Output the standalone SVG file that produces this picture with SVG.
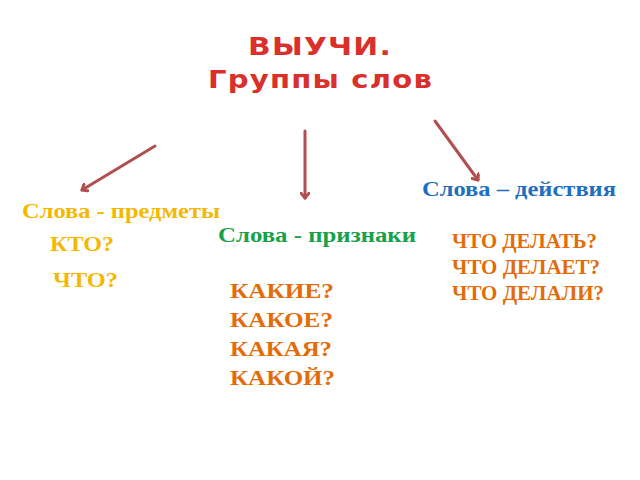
<svg xmlns="http://www.w3.org/2000/svg" width="640" height="480" viewBox="0 0 640 480">
<style>
.t{font-family:"Liberation Serif",serif;font-weight:bold}
.h{font-family:"DejaVu Sans","Liberation Sans",sans-serif;font-weight:bold;fill:#d9302b;font-size:24px;letter-spacing:1px}
.a{stroke:#b04f4f;stroke-width:3;fill:none;stroke-linecap:round}
.y{fill:#f5b800;font-size:21px}
.o{fill:#e36c0a;font-size:21px}
</style>
<defs><marker id="m" markerWidth="10" markerHeight="10" refX="6" refY="5" orient="auto" markerUnits="userSpaceOnUse"><path d="M0,0 L6,5 L0,10" fill="none" stroke="#b04f4f" stroke-width="3" stroke-linecap="round" stroke-linejoin="round"/></marker></defs>
<g id="title"><text class="h" x="248" y="55" textLength="144" lengthAdjust="spacingAndGlyphs">ВЫУЧИ.</text><text class="h" x="208" y="88" textLength="225" lengthAdjust="spacingAndGlyphs">Группы слов</text></g>
<g id="connectors">
<line class="a" x1="155" y1="146" x2="82" y2="190" marker-end="url(#m)"/>
<line class="a" x1="305" y1="131" x2="305" y2="198" marker-end="url(#m)"/>
<line class="a" x1="435" y1="121" x2="478" y2="180" marker-end="url(#m)"/>
</g>
<g id="n1" class="t"><text class="y" x="22" y="218" textLength="198" lengthAdjust="spacingAndGlyphs">Слова - предметы</text><text class="y" x="50" y="251" textLength="64" lengthAdjust="spacingAndGlyphs">КТО?</text><text class="y" x="53" y="287" textLength="65" lengthAdjust="spacingAndGlyphs">ЧТО?</text></g>
<g id="n2" class="t"><text x="218" y="242" fill="#17a24a" font-size="21" textLength="198" lengthAdjust="spacingAndGlyphs">Слова - признаки</text><text class="o" x="230" y="298" textLength="104" lengthAdjust="spacingAndGlyphs">КАКИЕ?</text><text class="o" x="230" y="327" textLength="103" lengthAdjust="spacingAndGlyphs">КАКОЕ?</text><text class="o" x="230" y="356" textLength="102" lengthAdjust="spacingAndGlyphs">КАКАЯ?</text><text class="o" x="230" y="385" textLength="105" lengthAdjust="spacingAndGlyphs">КАКОЙ?</text></g>
<g id="n3" class="t"><text x="422" y="196" fill="#1f6fc0" font-size="21" textLength="194" lengthAdjust="spacingAndGlyphs">Слова – действия</text><text class="o" x="452" y="248" font-size="19" textLength="145" lengthAdjust="spacingAndGlyphs">ЧТО ДЕЛАТЬ?</text><text class="o" x="452" y="274" font-size="19" textLength="148" lengthAdjust="spacingAndGlyphs">ЧТО ДЕЛАЕТ?</text><text class="o" x="452" y="300" font-size="19" textLength="152" lengthAdjust="spacingAndGlyphs">ЧТО ДЕЛАЛИ?</text></g>
</svg>
